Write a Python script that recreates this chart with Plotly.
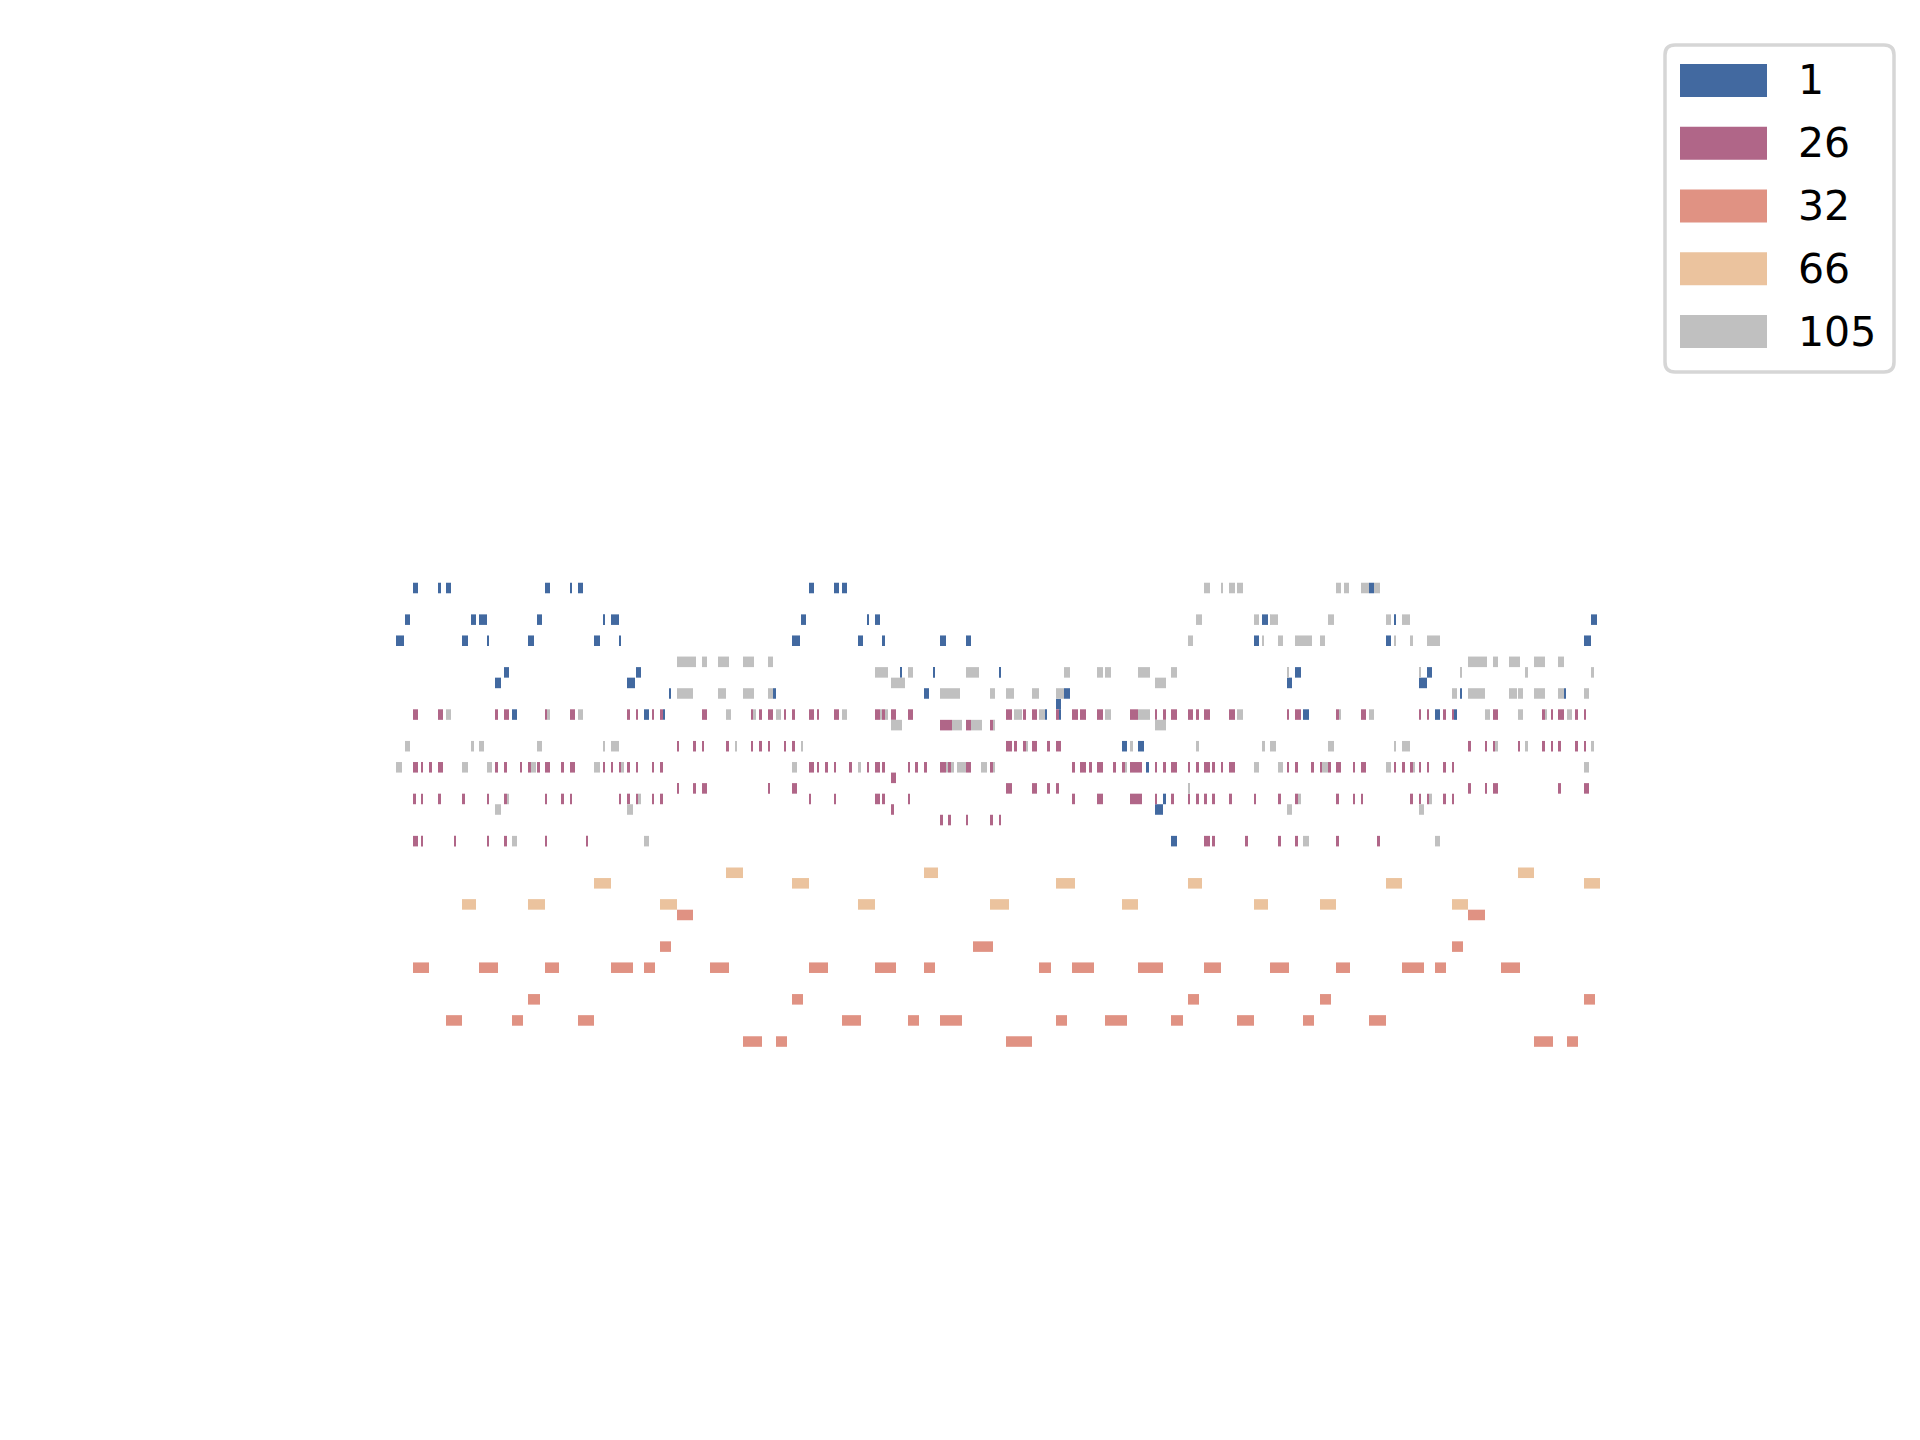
import plotly.graph_objects as go

# ---------------- data: notes per program, pitch -> [(start_tick, end_tick), ...]
programs = ["1", "26", "32", "66", "105"]
colors = ["#4269a0", "#b06688", "#e09283", "#ebc39e", "#c0c0c0"]

prog1_notes = {
    79: [(413, 418), (438, 441), (446, 451), (545, 550), (570, 572), (578, 583), (809, 814), (834, 839), (842, 847), (1369, 1374)],
    76: [(405, 410), (471, 476), (479, 487), (537, 542), (603, 605), (611, 619), (801, 806), (867, 869), (875, 880), (1262, 1268), (1394, 1396), (1591, 1597)],
    74: [(396, 404), (462, 468), (487, 489), (528, 534), (594, 600), (619, 621), (792, 800), (858, 863), (882, 885), (940, 946), (966, 971), (1254, 1259), (1386, 1391), (1584, 1591)],
    71: [(504, 509), (636, 641), (900, 902), (933, 935), (999, 1001), (1295, 1301), (1427, 1432)],
    70: [(495, 501), (627, 635), (1287, 1292), (1419, 1427)],
    69: [(669, 671), (773, 776), (924, 929), (1064, 1070), (1460, 1462), (1564, 1566)],
    68: [(1056, 1061)],
    67: [(512, 517), (644, 649), (663, 665), (1045, 1047), (1059, 1061), (1303, 1309), (1435, 1440), (1454, 1457)],
    64: [(1122, 1127), (1138, 1144)],
    62: [(1146, 1149)],
    59: [(1163, 1166)],
    58: [(1155, 1163)],
    55: [(1171, 1177)],
}

prog26_notes = {
    67: [(413, 418), (438, 443), (495, 498), (504, 509), (545, 547), (570, 575), (627, 630), (636, 638), (652, 654), (660, 663),
         (702, 707), (751, 753), (759, 762), (768, 773), (784, 786), (792, 795), (809, 814), (817, 819), (834, 839), (875, 880),
         (882, 885), (891, 896), (908, 913), (1006, 1012), (1023, 1026), (1032, 1037), (1056, 1059), (1072, 1078), (1080, 1086),
         (1097, 1103), (1130, 1138), (1155, 1157), (1163, 1166), (1171, 1177), (1188, 1193), (1196, 1199), (1204, 1210),
         (1229, 1235), (1287, 1289), (1295, 1301), (1336, 1339), (1361, 1366), (1419, 1421), (1427, 1429), (1443, 1446),
         (1452, 1454), (1493, 1498), (1542, 1545), (1551, 1553), (1558, 1564), (1575, 1578), (1584, 1586)],
    66: [(940, 952), (966, 971), (990, 993)],
    64: [(677, 679), (693, 696), (702, 704), (726, 729), (751, 753), (759, 762), (768, 770), (784, 786), (792, 795),
         (1006, 1012), (1014, 1017), (1023, 1026), (1032, 1037), (1047, 1050), (1056, 1061), (1468, 1471), (1485, 1487),
         (1493, 1495), (1518, 1520), (1542, 1545), (1551, 1553), (1558, 1561), (1575, 1578), (1584, 1586)],
    62: [(413, 418), (421, 423), (429, 432), (438, 443), (495, 498), (504, 507), (520, 522), (528, 531), (537, 540), (545, 550),
         (561, 564), (570, 575), (603, 605), (611, 613), (619, 621), (627, 630), (636, 638), (652, 654), (660, 663), (809, 814),
         (817, 819), (825, 828), (834, 836), (849, 852), (867, 869), (875, 880), (882, 885), (908, 910), (915, 918), (924, 927),
         (940, 946), (948, 951), (966, 971), (990, 993), (1072, 1075), (1080, 1086), (1089, 1092), (1097, 1103), (1113, 1116),
         (1122, 1125), (1130, 1142), (1155, 1157), (1163, 1166), (1171, 1177), (1188, 1190), (1196, 1199), (1204, 1210),
         (1212, 1215), (1221, 1223), (1229, 1235), (1287, 1289), (1295, 1298), (1311, 1314), (1320, 1322), (1328, 1331),
         (1336, 1341), (1353, 1355), (1361, 1366), (1394, 1396), (1402, 1405), (1410, 1413), (1419, 1421), (1427, 1429),
         (1443, 1446), (1452, 1454)],
    61: [(891, 896)],
    60: [(677, 679), (693, 696), (702, 707), (768, 770), (792, 797), (1006, 1012), (1032, 1037), (1047, 1050), (1056, 1059),
         (1468, 1471), (1485, 1487), (1493, 1498), (1558, 1561), (1584, 1589)],
    59: [(413, 416), (421, 423), (438, 441), (462, 465), (487, 489), (504, 507), (545, 547), (561, 564), (570, 572), (619, 621),
         (627, 630), (636, 638), (652, 654), (660, 663), (809, 811), (834, 836), (875, 880), (882, 885), (908, 910), (1072, 1075),
         (1097, 1103), (1130, 1142), (1155, 1157), (1171, 1174), (1188, 1190), (1196, 1199), (1204, 1207), (1212, 1215),
         (1229, 1232), (1254, 1256), (1278, 1281), (1295, 1298), (1336, 1339), (1353, 1355), (1361, 1363), (1410, 1413),
         (1419, 1421), (1427, 1429), (1443, 1446), (1452, 1454)],
    58: [(891, 894)],
    57: [(940, 943), (948, 951), (966, 968), (990, 993), (999, 1001)],
    55: [(413, 418), (421, 423), (454, 456), (487, 489), (504, 507), (545, 547), (586, 588), (1204, 1210), (1212, 1215),
         (1245, 1248), (1278, 1281), (1295, 1298), (1336, 1339), (1377, 1380)],
}

prog32_notes = {
    48: [(677, 693), (1468, 1485)],
    45: [(660, 671), (973, 993), (1452, 1463)],
    43: [(413, 429), (479, 498), (545, 559), (611, 633), (644, 655), (710, 729), (809, 828), (875, 896), (924, 935),
         (1039, 1051), (1072, 1094), (1138, 1163), (1204, 1221), (1270, 1289), (1336, 1350), (1402, 1424), (1435, 1446),
         (1501, 1520)],
    40: [(528, 540), (792, 803), (1188, 1199), (1320, 1331), (1584, 1595)],
    38: [(446, 462), (512, 523), (578, 594), (842, 861), (908, 919), (940, 962), (1056, 1067), (1105, 1127), (1171, 1183),
         (1237, 1254), (1303, 1314), (1369, 1386)],
    36: [(743, 762), (776, 787), (1006, 1032), (1534, 1553), (1567, 1578)],
}

prog66_notes = {
    52: [(726, 743), (924, 938), (1518, 1534)],
    51: [(594, 611), (792, 809), (1056, 1075), (1188, 1202), (1386, 1402), (1584, 1600)],
    49: [(462, 476), (528, 545), (660, 677), (858, 875), (990, 1009), (1122, 1138), (1254, 1268), (1320, 1336), (1452, 1468)],
}

prog105_notes = {
    79: [(1204, 1210), (1221, 1223), (1229, 1235), (1237, 1243), (1336, 1341), (1344, 1349), (1361, 1369), (1374, 1380)],
    76: [(1196, 1202), (1254, 1259), (1270, 1278), (1328, 1334), (1386, 1391), (1402, 1410)],
    74: [(1188, 1193), (1262, 1264), (1278, 1283), (1295, 1312), (1320, 1325), (1394, 1396), (1410, 1413), (1427, 1440)],
    72: [(677, 696), (702, 707), (718, 729), (743, 754), (768, 773), (1468, 1487), (1493, 1498), (1509, 1520), (1534, 1545),
         (1558, 1564)],
    71: [(875, 888), (908, 913), (966, 979), (1064, 1070), (1097, 1103), (1105, 1111), (1138, 1150), (1171, 1177),
         (1287, 1289), (1419, 1421), (1460, 1462), (1525, 1528), (1591, 1594)],
    70: [(891, 905), (1155, 1166)],
    69: [(677, 693), (718, 726), (743, 754), (768, 773), (940, 960), (990, 995), (1006, 1014), (1032, 1039), (1056, 1064),
         (1452, 1457), (1468, 1485), (1509, 1517), (1518, 1523), (1534, 1545), (1558, 1564), (1584, 1589)],
    67: [(446, 451), (547, 550), (578, 583), (726, 731), (753, 756), (776, 781), (842, 847), (880, 882), (885, 888),
         (1014, 1022), (1039, 1045), (1105, 1111), (1138, 1150), (1237, 1243), (1339, 1341), (1369, 1374), (1485, 1490),
         (1518, 1523), (1545, 1547), (1567, 1572)],
    66: [(891, 902), (952, 962), (971, 982), (993, 995), (1155, 1166)],
    64: [(405, 410), (471, 474), (479, 484), (537, 542), (603, 605), (611, 619), (735, 737), (801, 803), (1026, 1028),
         (1130, 1133), (1196, 1199), (1262, 1265), (1270, 1276), (1328, 1334), (1394, 1396), (1402, 1410), (1495, 1498),
         (1525, 1528), (1591, 1594)],
    62: [(396, 402), (462, 468), (487, 492), (531, 536), (594, 600), (621, 624), (792, 797), (858, 861), (946, 948),
         (951, 954), (957, 966), (981, 987), (993, 995), (1125, 1127), (1254, 1259), (1278, 1283), (1322, 1328),
         (1386, 1391), (1413, 1415), (1584, 1589)],
    60: [(1188, 1190)],
    59: [(507, 509), (638, 641), (1298, 1301), (1429, 1432)],
    58: [(495, 501), (627, 633), (1287, 1292), (1419, 1424)],
    55: [(512, 517), (644, 649), (1303, 1309), (1435, 1440)],
}

all_notes = [prog1_notes, prog26_notes, prog32_notes, prog66_notes, prog105_notes]

# ---------------- figure
W, H = 1920, 1440
fig = go.Figure()

for name, color, notes in zip(programs, colors, all_notes):
    ys, bases, durs = [], [], []
    for pitch, segs in notes.items():
        for s, e in segs:
            ys.append(pitch)
            bases.append(s)
            durs.append(e - s)
    fig.add_trace(go.Bar(
        orientation="h", y=ys, x=durs, base=bases, width=1.0,
        marker=dict(color=color, line=dict(width=0)),
        name=name, showlegend=False, hoverinfo="skip",
    ))

# ---------------- legend (drawn in paper coordinates)
def fx(px):
    return px / W

def fy(py):
    return 1 - py / H

shapes = []
x0, x1, y0, y1, r = 1665, 1894, 45, 372, 10
path = (f"M {fx(x0 + r)},{fy(y0)} L {fx(x1 - r)},{fy(y0)} Q {fx(x1)},{fy(y0)} {fx(x1)},{fy(y0 + r)} "
        f"L {fx(x1)},{fy(y1 - r)} Q {fx(x1)},{fy(y1)} {fx(x1 - r)},{fy(y1)} "
        f"L {fx(x0 + r)},{fy(y1)} Q {fx(x0)},{fy(y1)} {fx(x0)},{fy(y1 - r)} "
        f"L {fx(x0)},{fy(y0 + r)} Q {fx(x0)},{fy(y0)} {fx(x0 + r)},{fy(y0)} Z")
shapes.append(dict(type="path", xref="paper", yref="paper", path=path,
                   line=dict(color="#d6d6d6", width=3.5), fillcolor="rgba(255,255,255,0.8)", layer="above"))
annotations = []
for i, (name, color) in enumerate(zip(programs, colors)):
    top = 64 + 62.75 * i
    shapes.append(dict(type="rect", xref="paper", yref="paper",
                       x0=fx(1680), x1=fx(1767), y0=fy(top + 33), y1=fy(top),
                       fillcolor=color, line=dict(width=0), layer="above"))
    annotations.append(dict(xref="paper", yref="paper", x=fx(1796), y=fy(top + 16.5),
                            xanchor="left", yanchor="middle", text=name, showarrow=False,
                            font=dict(family="DejaVu Sans", size=41, color="black")))

fig.update_layout(
    width=W, height=H,
    margin=dict(l=0, r=0, t=0, b=0),
    paper_bgcolor="white", plot_bgcolor="white",
    barmode="overlay",
    xaxis=dict(range=[0, W], visible=False, showgrid=False, zeroline=False),
    yaxis=dict(range=[-1.78, 134.75], visible=False, showgrid=False, zeroline=False),
    shapes=shapes, annotations=annotations,
    showlegend=False,
)

fig.write_html("out.html")
